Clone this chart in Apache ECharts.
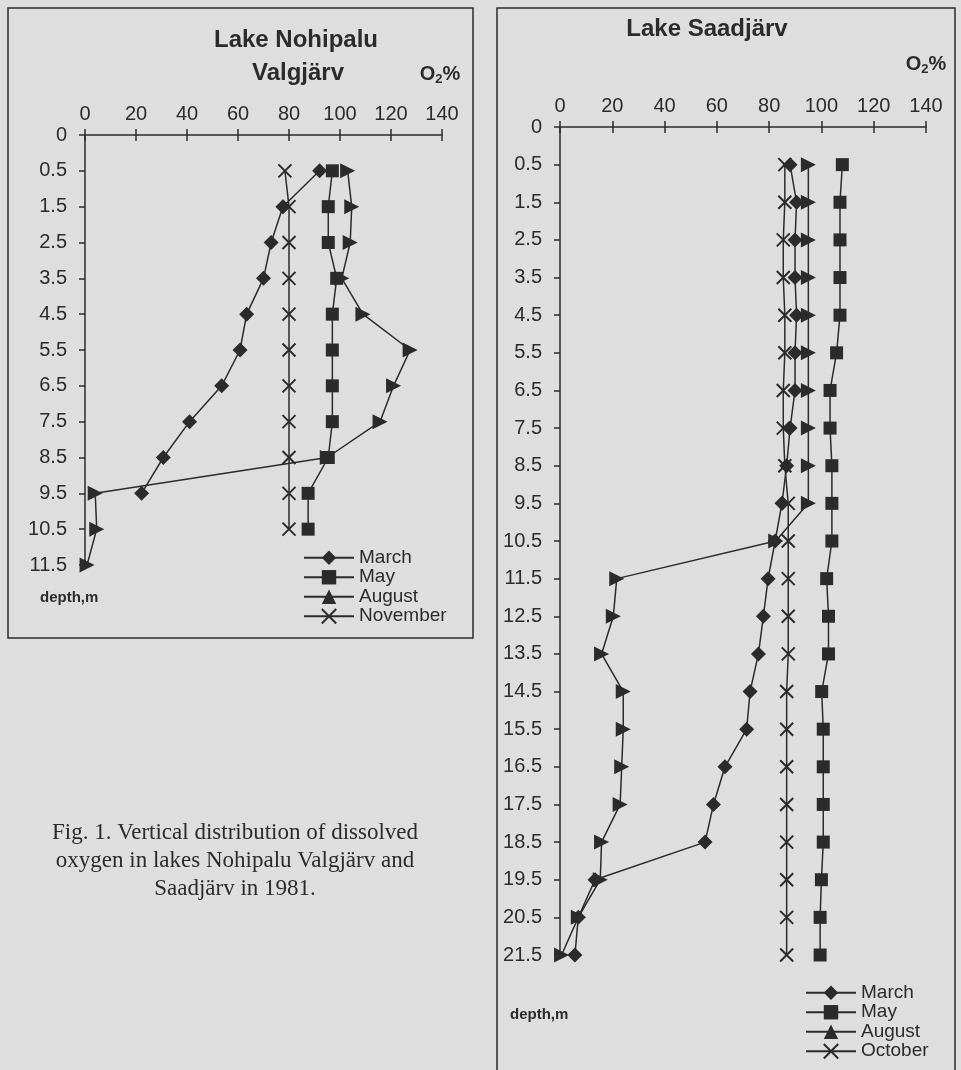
<!DOCTYPE html>
<html>
<head>
<meta charset="utf-8">
<script src="https://cdn.jsdelivr.net/npm/echarts@6/dist/echarts.min.js"></script>
<style>
  html, body { margin: 0; padding: 0; background: #dedede; }
  #chart { width: 961px; height: 1070px; }
</style>
</head>
<body>
<div id="chart"></div>
<script>
// depth labels (m), evenly spaced on the scan
var depthsLeft = ['0', '0.5', '1.5', '2.5', '3.5', '4.5', '5.5', '6.5', '7.5', '8.5', '9.5', '10.5', '11.5'];
var depthsRight = ['0', '0.5', '1.5', '2.5', '3.5', '4.5', '5.5', '6.5', '7.5', '8.5', '9.5', '10.5',
  '11.5', '12.5', '13.5', '14.5', '15.5', '16.5', '17.5', '18.5', '19.5', '20.5', '21.5'];
var o2Ticks = [0, 140, 20];

// Lake Nohipalu Valgjärv, O2 % from 0.5 m down
var marchL = [92, 77.6, 73, 70, 63.4, 60.8, 53.6, 41, 30.7, 22.2];
var mayL = [97, 95.4, 95.4, 98.7, 97, 97, 97, 97, 95.4, 87.5, 87.5];
var augustL = [103, 104.6, 104, 100.7, 109, 127.5, 121, 115.7, 95, 4, 4.6, 0.8];
var novemberL = [78.4, 80, 80, 80, 80, 80, 80, 80, 80, 80, 80];

// Lake Saadjärv, O2 % from 0.5 m down
var marchR = [88, 90.5, 89.9, 89.9, 90.5, 89.9, 89.9, 88, 86.7, 84.9, 82.3, 79.6, 77.8, 75.9,
  72.7, 71.4, 63.1, 58.7, 55.5, 13.4, 7, 5.7];
var mayR = [108, 107.1, 107.1, 107.1, 107.1, 105.8, 103.3, 103.3, 104, 104, 104, 102, 102.7, 102.7,
  100.1, 100.7, 100.7, 100.7, 100.7, 100, 99.5, 99.5];
var augustR = [95, 95, 95, 95, 95, 95, 95, 95, 95, 95, 82.5, 21.7, 20.4, 15.9,
  24.2, 24.2, 23.6, 23, 15.9, 15.4, 7, 0.6];
var octoberR = [86, 86, 85.4, 85.4, 86, 86, 85.4, 85.4, 86, 87.3, 87.3, 87.3, 87.3, 87.3,
  86.7, 86.7, 86.7, 86.7, 86.7, 86.7, 86.7, 86.7];

var ink = '#2b2b2b';
var sans = '"Liberation Sans", Arial, sans-serif';
var crossSymbol = 'path://M0,0L10,10M10,0L0,10';

function pairs(vals, depths) {
  // values start at the 0.5 m label (index 1)
  return vals.map(function (v, i) { return [v, depths[i + 1]]; });
}

function mkSeries(name, vals, depths, idx, symbol, size, rot) {
  return {
    name: name, type: 'line',
    xAxisIndex: idx * 2, yAxisIndex: idx * 2,
    data: pairs(vals, depths),
    symbol: symbol, symbolSize: size, symbolRotate: rot || 0,
    symbolKeepAspect: true, showAllSymbol: true,
    lineStyle: { color: ink, width: 1.5 },
    itemStyle: { color: ink, borderColor: ink, borderWidth: symbol === crossSymbol ? 2 : 0 },
    z: 3
  };
}

function xAx(grid, main) {
  return {
    type: 'value', gridIndex: grid, position: 'top',
    min: o2Ticks[0], max: o2Ticks[1], interval: o2Ticks[2],
    splitLine: { show: false },
    axisLine: { show: main, lineStyle: { color: ink, width: 1.5 } },
    axisTick: { show: true, inside: !main, length: 6, lineStyle: { color: ink, width: 1.5 } },
    axisLabel: { show: main, color: ink, fontSize: 20, fontFamily: sans, margin: 11 }
  };
}

function yAx(grid, depths, main) {
  return {
    type: 'category', gridIndex: grid, data: depths, inverse: true, boundaryGap: false,
    axisLine: { show: main, lineStyle: { color: ink, width: 1.5 } },
    axisTick: { show: true, inside: !main, length: 6, interval: 0, lineStyle: { color: ink, width: 1.5 } },
    axisLabel: { show: main, interval: 0, color: ink, fontSize: 20, fontFamily: sans, margin: 18 }
  };
}

function o2Label(x, y) {
  return {
    type: 'text', x: x, y: y,
    style: {
      text: '{b|O}{s|2}{b|%}', textAlign: 'center', textVerticalAlign: 'middle',
      rich: {
        b: { fontSize: 20, fontFamily: sans, fill: ink, fontWeight: 'bold' },
        s: { fontSize: 13, fontFamily: sans, fill: ink, fontWeight: 'bold', padding: [10, 0, 0, 0] }
      }
    }
  };
}

function legendFor(names, left, top) {
  return {
    orient: 'vertical', left: left, top: top, height: 100, padding: 0, data: names,
    itemWidth: 50, itemHeight: 18, itemGap: 0, symbolRotate: 0,
    textStyle: { color: ink, fontSize: 19, fontFamily: sans, lineHeight: 19.5 },
    selectedMode: false
  };
}

var chart = echarts.init(document.getElementById('chart'));
chart.setOption({
  backgroundColor: '#dedede',
  animation: false,
  grid: [
    { left: 85, top: 135, width: 357, height: 430 },
    { left: 560, top: 127, width: 366, height: 828 }
  ],
  xAxis: [xAx(0, true), xAx(0, false), xAx(1, true), xAx(1, false)],
  yAxis: [yAx(0, depthsLeft, true), yAx(0, depthsLeft, false), yAx(1, depthsRight, true), yAx(1, depthsRight, false)],
  legend: [
    legendFor(['March', 'May', 'August', 'November'], 303, 548),
    legendFor(['March', 'May', 'August', 'October'], 805, 983)
  ],
  series: [
    mkSeries('March', marchL, depthsLeft, 0, 'diamond', 15),
    mkSeries('May', mayL, depthsLeft, 0, 'rect', 13),
    mkSeries('August', augustL, depthsLeft, 0, 'triangle', 15, -90),
    mkSeries('November', novemberL, depthsLeft, 0, crossSymbol, 13),
    mkSeries('March', marchR, depthsRight, 1, 'diamond', 15),
    mkSeries('May', mayR, depthsRight, 1, 'rect', 13),
    mkSeries('August', augustR, depthsRight, 1, 'triangle', 15, -90),
    mkSeries('October', octoberR, depthsRight, 1, crossSymbol, 13)
  ],
  graphic: [
    { type: 'rect', shape: { x: 8, y: 8, width: 465, height: 630 },
      style: { fill: 'none', stroke: ink, lineWidth: 1.5 } },
    { type: 'rect', shape: { x: 497, y: 8, width: 458, height: 1080 },
      style: { fill: 'none', stroke: ink, lineWidth: 1.5 } },
    { type: 'text', x: 296, y: 40, style: { text: 'Lake Nohipalu', textAlign: 'center', textVerticalAlign: 'middle',
      font: 'bold 24px ' + sans, fill: ink } },
    { type: 'text', x: 298, y: 73, style: { text: 'Valgjärv', textAlign: 'center', textVerticalAlign: 'middle',
      font: 'bold 24px ' + sans, fill: ink } },
    o2Label(440, 74),
    { type: 'text', x: 707, y: 29, style: { text: 'Lake Saadjärv', textAlign: 'center', textVerticalAlign: 'middle',
      font: 'bold 24px ' + sans, fill: ink } },
    o2Label(926, 64),
    { type: 'text', x: 40, y: 598, style: { text: 'depth,m', textVerticalAlign: 'middle',
      font: 'bold 15px ' + sans, fill: ink } },
    { type: 'text', x: 510, y: 1015, style: { text: 'depth,m', textVerticalAlign: 'middle',
      font: 'bold 15px ' + sans, fill: ink } },
    { type: 'text', x: 235, y: 861, style: {
      text: 'Fig. 1. Vertical distribution of dissolved\noxygen in lakes Nohipalu Valgjärv and\nSaadjärv in 1981.',
      textAlign: 'center', textVerticalAlign: 'middle', lineHeight: 28,
      font: '23px "Liberation Serif", "Times New Roman", serif', fill: ink } }
  ]
});
</script>
</body>
</html>
